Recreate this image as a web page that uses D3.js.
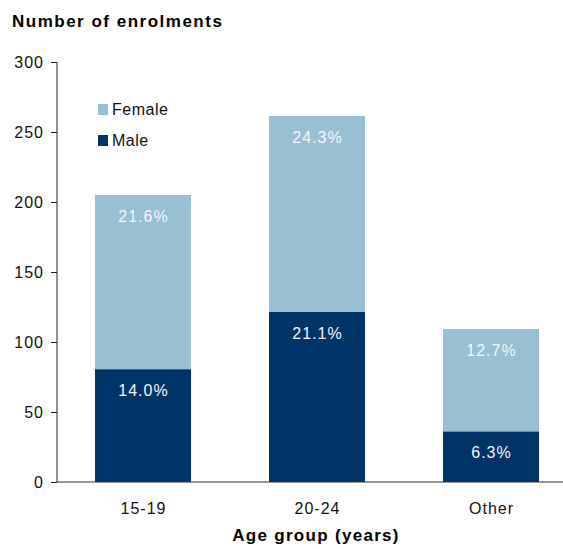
<!DOCTYPE html>
<html>
<head>
<meta charset="utf-8">
<script src="https://cdn.jsdelivr.net/npm/d3@7"></script>
<style>
  html, body { margin: 0; padding: 0; background: #fff; }
  svg { display: block; }
  text { font-family: "Liberation Sans", Arial, sans-serif; fill: #111; }
</style>
</head>
<body>
<svg id="chart" width="563" height="549"></svg>
<script>
// Enrolments by age group, split by sex
const categories = ["15-19", "20-24", "Other"];
const seriesNames = ["Male", "Female"];
const maleValues = [80.6, 121.5, 36.2];
const femaleValues = [124.4, 140.0, 73.1];
const yTicks = [0, 50, 100, 150, 200, 250, 300];

const colors = { Male: "#003366", Female: "#98BFD2" };

const svg = d3.select("#chart");

const x = d3.scaleBand()
  .domain(categories)
  .range([56, 578])
  .paddingInner(0.448)
  .paddingOuter(0.224);

const y = d3.scaleLinear().domain([0, 300]).range([482, 62]);

// grand total, used for the share labels
const total = d3.sum(maleValues) + d3.sum(femaleValues);

const rows = categories.map((c, i) => ({ category: c, Male: maleValues[i], Female: femaleValues[i] }));
const stacked = d3.stack().keys(seriesNames)(rows);

// bars
const layers = svg.append("g").selectAll("g")
  .data(stacked)
  .join("g")
  .attr("fill", d => colors[d.key]);

layers.selectAll("rect")
  .data(d => d)
  .join("rect")
  .attr("x", d => x(d.data.category))
  .attr("width", x.bandwidth())
  .attr("y", d => y(d[1]))
  .attr("height", d => y(d[0]) - y(d[1]));

// share-of-total labels inside the top of each segment
layers.selectAll("text")
  .data(d => d.map(s => ({ s, key: d.key })))
  .join("text")
  .attr("x", d => x(d.s.data.category) + x.bandwidth() / 2 + 0.5)
  .attr("y", d => y(d.s[1]) + 27)
  .attr("text-anchor", "middle")
  .style("font-size", "16px")
  .style("letter-spacing", "1px")
  .style("fill", "#f4f7f9")
  .text(d => d3.format(".1f")((d.s[1] - d.s[0]) / total * 100) + "%");

// y axis
const yAxis = svg.append("g")
  .attr("transform", "translate(57,0)")
  .call(d3.axisLeft(y).tickValues(yTicks).tickSize(6).tickPadding(7).tickSizeOuter(0));
yAxis.select(".domain").attr("stroke", "#222").attr("d", `M0,${y(300)}V${y(0)}`);
yAxis.selectAll(".tick line").attr("stroke", "#222");
yAxis.selectAll(".tick text")
  .style("font-size", "16px")
  .style("letter-spacing", "1px")
  .style("font-family", "'Liberation Sans', Arial, sans-serif")
  .attr("fill", "#111");

// x axis
const xAxis = svg.append("g")
  .attr("transform", `translate(0,${y(0)})`)
  .call(d3.axisBottom(x).tickSize(0).tickPadding(0));
xAxis.select(".domain").attr("stroke", "#333").attr("d", "M57,0H563");
xAxis.selectAll(".tick text")
  .attr("y", 32)
  .attr("dy", null)
  .attr("dx", "0.5px")
  .style("font-size", "16px")
  .style("letter-spacing", "1px")
  .style("font-family", "'Liberation Sans', Arial, sans-serif")
  .attr("fill", "#111");

// titles
svg.append("text")
  .attr("x", 12)
  .attr("y", 27)
  .style("font-size", "17px")
  .style("font-weight", "bold")
  .style("letter-spacing", "1.5px")
  .style("fill", "#000")
  .text("Number of enrolments");

svg.append("text")
  .attr("x", 316)
  .attr("y", 541)
  .attr("text-anchor", "middle")
  .style("font-size", "17px")
  .style("font-weight", "bold")
  .style("letter-spacing", "1.3px")
  .style("fill", "#000")
  .text("Age group (years)");

// legend
const legendItems = ["Female", "Male"];
const legend = svg.append("g").attr("transform", "translate(98,104)");
const li = legend.selectAll("g")
  .data(legendItems)
  .join("g")
  .attr("transform", (d, i) => `translate(0,${i * 31})`);
li.append("rect")
  .attr("width", 10)
  .attr("height", 11)
  .attr("fill", d => colors[d]);
li.append("text")
  .attr("x", 14)
  .attr("y", 11)
  .style("font-size", "16px")
  .style("letter-spacing", "0.5px")
  .text(d => d);
</script>
</body>
</html>
